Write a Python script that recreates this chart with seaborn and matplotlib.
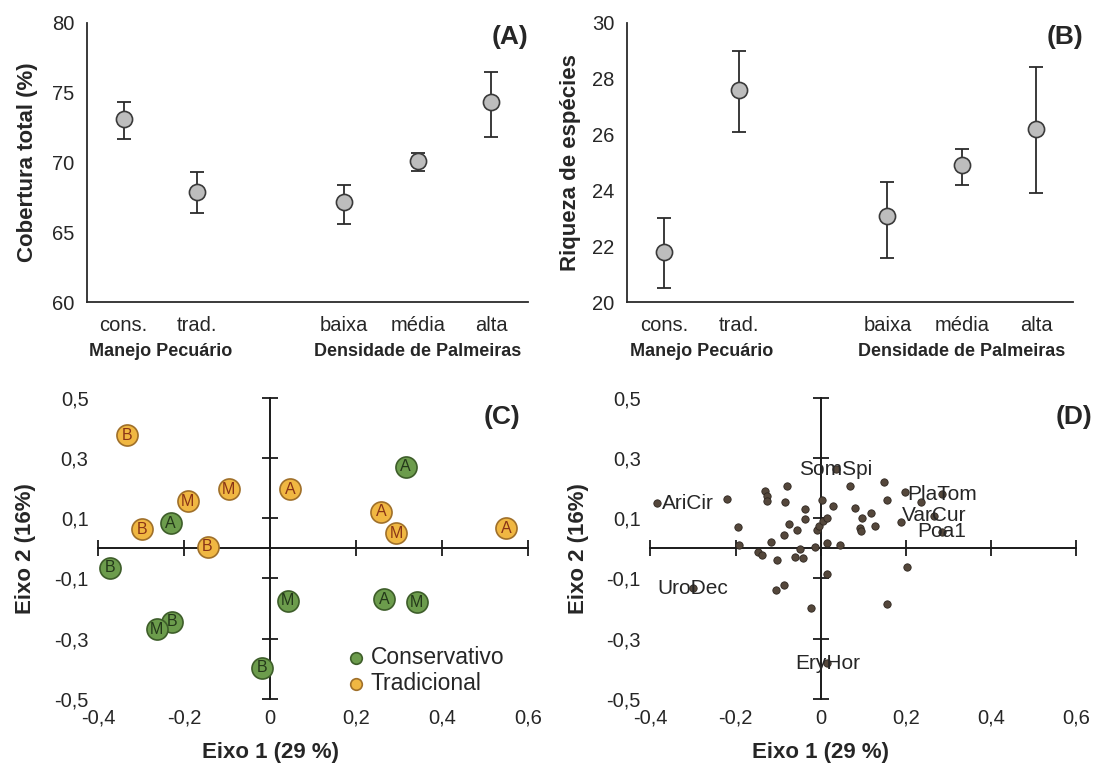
import numpy as np
import pandas as pd
import matplotlib
matplotlib.use('Agg')
import matplotlib.pyplot as plt
import seaborn as sns

# ---- data ----
categories = ['cons.', 'trad.', '', 'baixa', 'média', 'alta']
groups = ['cons.', 'trad.', 'baixa', 'média', 'alta']

cover_mean = [73.1, 67.9, 67.2, 70.1, 74.3]
cover_low = [71.7, 66.4, 65.6, 69.4, 71.8]
cover_high = [74.3, 69.3, 68.4, 70.7, 76.5]

rich_mean = [21.8, 27.6, 23.1, 24.9, 26.2]
rich_low = [20.5, 26.1, 21.6, 24.2, 23.9]
rich_high = [23.0, 29.0, 24.3, 25.5, 28.4]

# PCA of plots (panel C)
plot_x = [-0.334, -0.192, -0.097, 0.046, -0.299, -0.146, 0.258, 0.293, 0.548,
          0.315, -0.232, -0.372, 0.041, 0.264, 0.341, -0.229, -0.264, -0.020]
plot_y = [0.375, 0.157, 0.196, 0.196, 0.063, 0.006, 0.121, 0.050, 0.066,
          0.270, 0.083, -0.064, -0.174, -0.169, -0.179, -0.243, -0.268, -0.397]
plot_manejo = ['Tradicional'] * 9 + ['Conservativo'] * 9
plot_dens = ['B', 'M', 'M', 'A', 'B', 'B', 'A', 'M', 'A',
             'A', 'A', 'B', 'M', 'A', 'M', 'B', 'M', 'B']

# species scores (panel D)
sp_x = [-0.219, -0.195, -0.191, -0.147, -0.138, -0.130, -0.127, -0.125, -0.117,
        -0.103, -0.105, -0.086, -0.086, -0.083, -0.078, -0.074, -0.061, -0.056,
        -0.049, -0.041, -0.036, -0.036, -0.023, -0.014, -0.008, -0.003, 0.002,
        0.005, 0.016, 0.016, 0.016, 0.028, 0.045, 0.070, 0.080, 0.092, 0.095,
        0.096, 0.118, 0.127, 0.148, 0.156, 0.156, 0.202, 0.199, 0.189, 0.236]
sp_y = [0.165, 0.070, 0.010, -0.011, -0.022, 0.190, 0.174, 0.158, 0.020,
        -0.040, -0.137, -0.123, 0.044, 0.154, 0.208, 0.081, -0.029, 0.061,
        -0.003, -0.033, 0.130, 0.098, -0.197, 0.003, 0.061, 0.074, 0.160,
        0.092, 0.100, 0.019, -0.086, 0.142, 0.010, 0.208, 0.135, 0.066, 0.057,
        0.100, 0.118, 0.074, 0.221, 0.160, -0.184, -0.063, 0.186, 0.088, 0.153]
lab_names = ['AriCir', 'SomSpi', 'PlaTom', 'VarCur', 'Poa1', 'UroDec', 'EryHor']
lab_x = [-0.385, 0.036, 0.285, 0.266, 0.285, -0.300, 0.016]
lab_y = [0.150, 0.262, 0.180, 0.108, 0.055, -0.132, -0.381]

pca_xticks = [-0.4, -0.2, 0, 0.2, 0.4, 0.6]
pca_yticks = [0.5, 0.3, 0.1, -0.1, -0.3, -0.5]

# ---- style ----
sns.set_style('white')
plt.rcParams['font.family'] = ['Liberation Sans', 'DejaVu Sans']
txt = '#262626'
line = '#2b2b2b'

fig = plt.figure(figsize=(11.01, 7.64), dpi=100)
axA = fig.add_axes([0.0790, 0.6043, 0.4005, 0.3660])
axB = fig.add_axes([0.5695, 0.6043, 0.4055, 0.3660])
axC = fig.add_axes([0.0893, 0.0851, 0.3905, 0.3944])
axD = fig.add_axes([0.5908, 0.0851, 0.3865, 0.3944])


def mean_panel(ax, mean, low, high, ylim, yticks, ylabel, tag, tagx, labx):
    df = pd.DataFrame({'grupo': groups, 'media': mean, 'low': low, 'high': high})
    df['pos'] = [categories.index(g) for g in df['grupo']]
    ax.errorbar(df['pos'], df['media'],
                yerr=[df['media'] - df['low'], df['high'] - df['media']],
                fmt='none', ecolor=line, elinewidth=1.3, capsize=5, capthick=1.3, zorder=2)
    sns.scatterplot(data=df, x='pos', y='media', ax=ax, s=135, color='#bdbdbd',
                    edgecolor='#3a3a3a', linewidth=1.2, zorder=3, legend=False)
    ax.set_xlim(-0.5, len(categories) - 0.5)
    ax.set_ylim(*ylim)
    ax.set_yticks(yticks)
    ax.set_xticks(np.arange(len(categories)) + 0.5)
    ax.set_xticklabels([])
    ax.set_xticks(range(len(categories)), minor=True)
    ax.set_xticklabels(categories, minor=True)
    ax.tick_params(axis='x', which='major', direction='in', length=5, width=1.2, color=line)
    ax.tick_params(axis='x', which='minor', length=0, pad=10, labelsize=14.5, labelcolor=txt)
    ax.tick_params(axis='y', direction='in', length=6, width=1.2, color=line,
                   pad=9, labelsize=14.5, labelcolor=txt)
    for s in ['top', 'right']:
        ax.spines[s].set_visible(False)
    for s in ['left', 'bottom']:
        ax.spines[s].set_color(line)
        ax.spines[s].set_linewidth(1.3)
    ax.set_xlabel('')
    ax.set_ylabel(ylabel, fontsize=16, fontweight='bold', color=txt)
    ax.yaxis.set_label_coords(labx, 0.5)
    tr = ax.get_xaxis_transform()
    mid = (categories.index('cons.') + categories.index('trad.')) / 2
    ax.text(mid, -0.175, 'Manejo Pecuário', transform=tr, ha='center', va='center',
            fontsize=13, fontweight='bold', color=txt)
    ax.text(categories.index('média'), -0.175, 'Densidade de Palmeiras', transform=tr,
            ha='center', va='center', fontsize=13, fontweight='bold', color=txt)
    ax.text(tagx, 0.95, tag, transform=ax.transAxes, ha='center', va='center',
            fontsize=19, fontweight='bold', color=txt)


def pca_frame(ax, tag, tagx):
    ax.set_xlim(-0.4, 0.6)
    ax.set_ylim(-0.5, 0.5)
    for s in ax.spines.values():
        s.set_visible(False)
    ax.set_xticks(pca_xticks)
    ax.set_xticklabels([('0' if v == 0 else f'{v:.1f}'.replace('.', ',')) for v in pca_xticks])
    ax.set_yticks(pca_yticks)
    ax.set_yticklabels([f'{v:.1f}'.replace('.', ',') for v in pca_yticks])
    ax.tick_params(length=0, labelsize=14.5, labelcolor=txt, pad=7)
    # axes crossing at the origin
    sx = ax.secondary_xaxis(0.5)
    sx.set_xticks(pca_xticks)
    sx.tick_params(direction='inout', length=11, width=1.3, color='#1a1a1a',
                   labeltop=False, labelbottom=False)
    for s in sx.spines.values():
        s.set_color('#1a1a1a')
        s.set_linewidth(1.4)
    sy = ax.secondary_yaxis(0.4)
    sy.set_yticks(pca_yticks)
    sy.tick_params(direction='inout', length=11, width=1.3, color='#1a1a1a',
                   labelleft=False, labelright=False)
    for s in sy.spines.values():
        s.set_color('#1a1a1a')
        s.set_linewidth(1.4)
    ax.text(tagx, 0.935, tag, transform=ax.transAxes, ha='center', va='center',
            fontsize=19, fontweight='bold', color=txt)


def pca_labels(ax, labx):
    ax.set_xlabel('Eixo 1 (29 %)', fontsize=16, fontweight='bold', color=txt)
    ax.xaxis.set_label_coords(0.4, -0.142)
    ax.set_ylabel('Eixo 2 (16%)', fontsize=16, fontweight='bold', color=txt)
    ax.yaxis.set_label_coords(labx, 0.5)


# (A) and (B)
mean_panel(axA, cover_mean, cover_low, cover_high, (60, 80), [60, 65, 70, 75, 80],
           'Cobertura total (%)', '(A)', 0.96, -0.112)
mean_panel(axB, rich_mean, rich_low, rich_high, (20, 30), [20, 22, 24, 26, 28, 30],
           'Riqueza de espécies', '(B)', 0.98, -0.104)

# (C) plots ordination
pca_frame(axC, '(C)', 0.94)
plots = pd.DataFrame({'x': plot_x, 'y': plot_y, 'manejo': plot_manejo, 'dens': plot_dens})
palette = {'Conservativo': '#6c9c4c', 'Tradicional': '#f0b742'}
edges = {'Conservativo': '#3e5e2a', 'Tradicional': '#a0702a'}
letter_col = {'Conservativo': '#24381a', 'Tradicional': '#8a3416'}
for m in ['Conservativo', 'Tradicional']:
    sub = plots[plots['manejo'] == m]
    sns.scatterplot(data=sub, x='x', y='y', color=palette[m], s=230,
                    edgecolor=edges[m], linewidth=1.2, ax=axC, zorder=3, label=m)
for _, r in plots.iterrows():
    axC.text(r['x'], r['y'], r['dens'], ha='center', va='center', fontsize=11.5,
             color=letter_col[r['manejo']], zorder=4)
axC.legend(loc='upper left', bbox_to_anchor=(0.535, 0.228), frameon=False,
           fontsize=16.5, handlelength=1.0, handletextpad=0.15, labelspacing=0.1,
           markerscale=0.55, borderpad=0.2, labelcolor=txt)
pca_labels(axC, -0.145)

# (D) species ordination
pca_frame(axD, '(D)', 0.995)
species = pd.DataFrame({'x': sp_x + lab_x, 'y': sp_y + lab_y})
sns.scatterplot(data=species, x='x', y='y', s=28, color='#54473b',
                edgecolor='#2e2620', linewidth=0.6, ax=axD, zorder=3, legend=False)
for name, x, y in zip(lab_names, lab_x, lab_y):
    if name == 'AriCir':
        axD.text(x + 0.012, y, name, ha='left', va='center', fontsize=15, color=txt, zorder=4)
    else:
        axD.text(x, y, name, ha='center', va='center', fontsize=15, color=txt, zorder=4)
pca_labels(axD, -0.145)

fig.savefig('out.png', dpi=100)
